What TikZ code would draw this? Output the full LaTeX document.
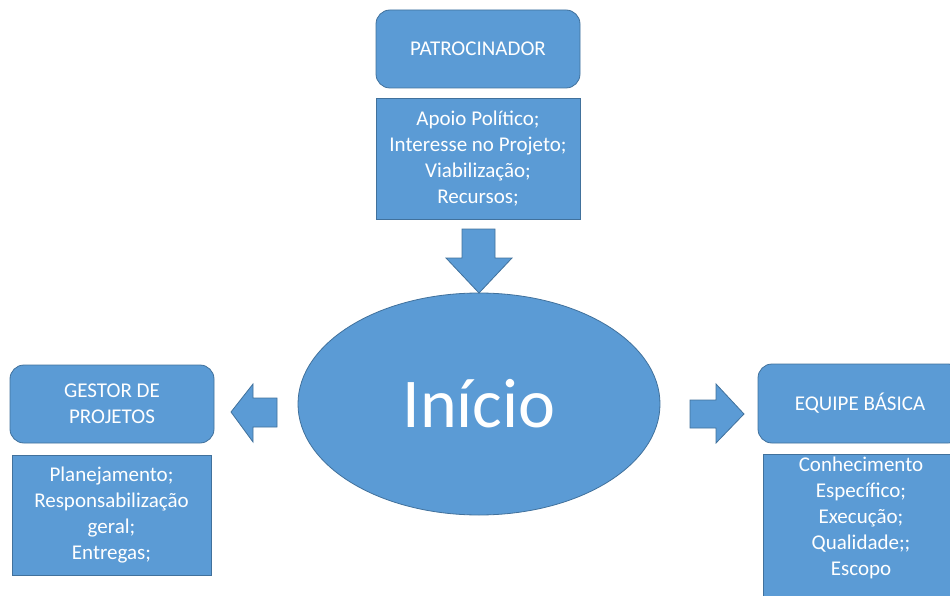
\documentclass[tikz,border=0pt]{standalone}
\usepackage{fontspec}
\setmainfont{Carlito}
\usetikzlibrary{shapes.geometric}
\definecolor{fillblue}{HTML}{5B9BD5}
\definecolor{lineblue}{HTML}{41719C}
\begin{document}
\begin{tikzpicture}[x=1pt,y=-1pt,
  base/.style={draw=lineblue,fill=fillblue,line width=0.8pt,text=white,align=center,inner sep=0pt},
  titlebox/.style={base,rounded corners=14pt,minimum width=204pt,minimum height=78pt,font=\fontsize{21}{25.5}\selectfont},
  listbox/.style={base,font=\fontsize{21}{26}\selectfont},
  blockarrow/.style={draw=lineblue,fill=fillblue,line width=0.8pt}]
\useasboundingbox (0,0) rectangle (950,596);
\node[titlebox] (pat) at (478,49) {PATROCINADOR};
\node[listbox,minimum width=204pt,minimum height=121pt] (patl) at (478,158.5)
  {Apoio Político;\\Interesse no Projeto;\\Viabilização;\\Recursos;};
\node[base,ellipse,minimum width=362pt,minimum height=222pt,font=\fontsize{70}{74}\selectfont] (ini) at (479,404) {Início};
\node[titlebox] (ges) at (112,404) {GESTOR DE\\PROJETOS};
\node[listbox,minimum width=199pt,minimum height=120pt] (gesl) at (111.5,515)
  {Planejamento;\\Responsabilização\\geral;\\Entregas;};
\node[titlebox,minimum height=79pt] (equ) at (860,403.5) {EQUIPE BÁSICA};
\node[listbox,minimum width=198pt,minimum height=154pt] (equl) at (862,531) {};
\node[text=white,align=center,font=\fontsize{21}{26}\selectfont] (equt) at (861,518)
  {Conhecimento\\Específico;\\Execução;\\Qualidade;;\\Escopo};
% block arrows
\draw[blockarrow] (462,229) -- (495,229) -- (495,258) -- (512,258) -- (479,293) -- (446,258) -- (462,258) -- cycle;
\draw[blockarrow] (277,398) -- (277,427) -- (253,427) -- (253,442) -- (231,412) -- (253,384) -- (253,398) -- cycle;
\draw[blockarrow] (690,400) -- (716,400) -- (716,384) -- (744,414) -- (716,443) -- (716,428) -- (690,428) -- cycle;
\end{tikzpicture}
\end{document}
